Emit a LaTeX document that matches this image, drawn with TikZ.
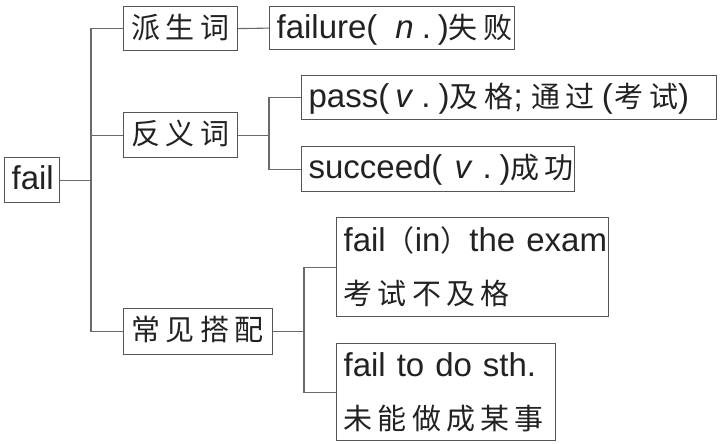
\documentclass[tikz,border=0pt]{standalone}
\usepackage{fontspec}
\setmainfont{Liberation Sans}
\newfontfamily\cjk[LetterSpace=18]{Noto Sans CJK SC}
\newfontfamily\cjkp{Noto Sans CJK SC}
\newcommand\zhtext[1]{{\cjk\fontsize{29}{34}\selectfont #1}}
\newcommand\zhp[1]{{\cjkp\fontsize{29}{34}\selectfont #1}}
\definecolor{ink}{HTML}{222222}
\definecolor{linec}{HTML}{6A6A6A}
\definecolor{boxc}{HTML}{555555}
\begin{document}
\begin{tikzpicture}[x=1pt,y=-1pt,
  box/.style={draw=boxc, line width=1.2pt, anchor=north west, inner xsep=7pt, inner ysep=0pt,
    align=left, text=ink, font=\fontsize{33}{53}\selectfont},
  one/.style={text height=32pt, text depth=12pt},
  conn/.style={draw=linec, line width=1.1pt}]
\useasboundingbox (0,0) rectangle (723,444);
\fill[white] (0,0) rectangle (723,444);

\node[box, one, text width=41pt, text depth=13pt] (fail) at (4,157) {\mbox{fail}};
\node[box, one, text width=98pt, inner xsep=8pt] (pai) at (123,6) {\mbox{\zhtext{派生词}}};
\node[box, one, text width=231pt, text depth=11pt] (failure) at (269,6)
  {\mbox{failure(\hspace{18pt}\textit{n}\hspace{8pt}.\hspace{7pt})\zhtext{失败}}};
\node[box, one, text width=98pt, inner xsep=8pt, text depth=13pt] (fanyi) at (123,112) {\mbox{\zhtext{反义词}}};
\node[box, one, text width=401pt] (pass) at (301,75)
  {\mbox{pass(\hspace{6pt}\textit{v}\hspace{8pt}.\hspace{8pt})\zhtext{及}\hspace{6pt}\zhtext{格};\hspace{9pt}\zhtext{通过}\hspace{7pt}(\hspace{2pt}\zhtext{考试})}};
\node[box, one, text width=259pt, text depth=13pt] (succeed) at (301,146)
  {\mbox{succeed(\hspace{12pt}\textit{v}\hspace{10pt}.\hspace{8pt})\zhtext{成功}}};
\node[box, one, text width=133pt, inner xsep=8pt, text depth=14pt] (chang) at (123,308) {\mbox{\zhtext{常见搭配}}};
\node[box, text width=258pt, text height=34pt, text depth=65pt] (failin) at (336,217)
  {\mbox{fail\zhp{（}in\zhp{）}the exam}\\\mbox{\zhtext{考试不及格}}};
\node[box, text width=205pt, text height=33pt, text depth=64pt] (failto) at (336,343)
  {\mbox{fail to do sth.}\\\mbox{\zhtext{未能做成某事}}};

\coordinate (t) at (91,0);
\coordinate (b2) at (269,0);
\coordinate (b3) at (304,0);

\draw[conn] (fail.east) -- (fail.east -| t);
\draw[conn] (pai.west) -- (pai.west -| t) -- (chang.west -| t) -- (chang.west);
\draw[conn] (fanyi.west) -- (fanyi.west -| t);
\draw[conn] (pai.east) -- (failure.west);
\draw[conn] (fanyi.east) -- (fanyi.east -| b2);
\draw[conn] (pass.west) -- (pass.west -| b2) -- (succeed.west -| b2) -- (succeed.west);
\draw[conn] (chang.east) -- (chang.east -| b3);
\draw[conn] (failin.west) -- (failin.west -| b3) -- (failto.west -| b3) -- (failto.west);
\end{tikzpicture}
\end{document}
